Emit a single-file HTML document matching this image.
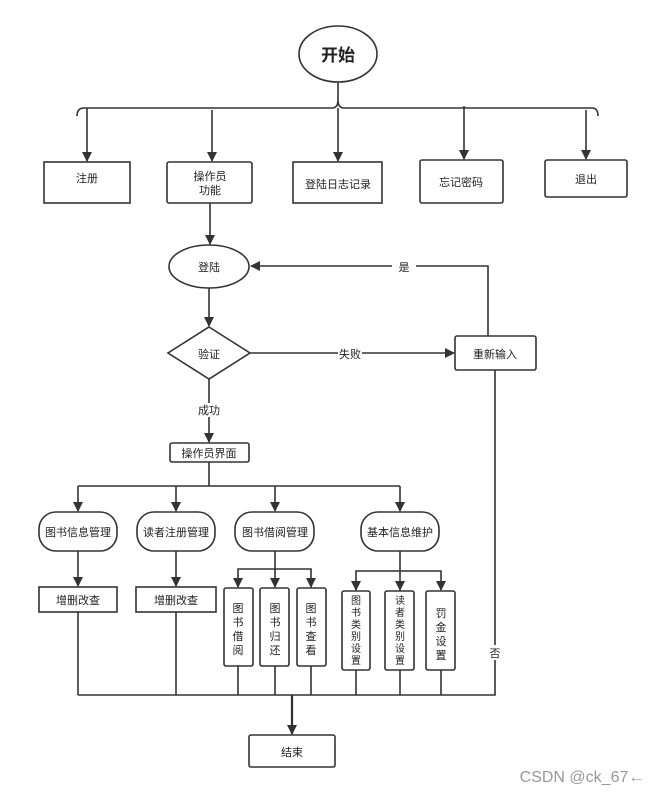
<!DOCTYPE html>
<html><head><meta charset="utf-8"><style>
html,body{margin:0;padding:0;background:#fff;}
svg{display:block;}
text{font-family:"Liberation Sans","Noto Sans CJK SC",sans-serif;fill:#222;font-size:11px;}
.s{font-size:10px;}
</style></head><body>
<svg width="658" height="795" viewBox="0 0 658 795" xmlns="http://www.w3.org/2000/svg">
<defs><marker id="a" markerWidth="10" markerHeight="10" refX="9" refY="5" orient="auto" markerUnits="userSpaceOnUse"><path d="M0,0 L10,5 L0,10 z" fill="#333"/></marker></defs>
<g stroke="#333" stroke-width="1.6" fill="none">
<ellipse cx="338" cy="54" rx="39" ry="28"/>
<line x1="338" y1="82" x2="338" y2="100"/>
<path d="M77,116 Q77,108 84,108 L332,108 Q338,108 338,100 Q338,108 344,108 L592,108 Q598,108 598,116"/>
<line x1="87" y1="108" x2="87" y2="161" marker-end="url(#a)"/>
<line x1="212" y1="110" x2="212" y2="161" marker-end="url(#a)"/>
<line x1="338" y1="108" x2="338" y2="161" marker-end="url(#a)"/>
<line x1="464" y1="106" x2="464" y2="159" marker-end="url(#a)"/>
<line x1="586" y1="110" x2="586" y2="159" marker-end="url(#a)"/>
<rect x="44" y="162" width="86" height="41"/>
<rect x="167" y="162" width="85" height="41" rx="2"/>
<rect x="293" y="162" width="89" height="41"/>
<rect x="420" y="160" width="83" height="43" rx="2"/>
<rect x="545" y="160" width="82" height="37" rx="2"/>
<line x1="210" y1="203" x2="210" y2="244" marker-end="url(#a)"/>
<ellipse cx="209" cy="266.5" rx="40" ry="21.5"/>
<line x1="209" y1="288" x2="209" y2="326" marker-end="url(#a)"/>
<path d="M209,327 L250,353 L209,379 L168,353 z"/>
<line x1="250" y1="353" x2="454" y2="353" marker-end="url(#a)"/>
<rect x="455" y="336" width="81" height="34" rx="2"/>
<path d="M488,336 L488,266 L251,266" marker-end="url(#a)"/>
<line x1="209" y1="379" x2="209" y2="442" marker-end="url(#a)"/>
<rect x="170" y="443" width="79" height="19" rx="2"/>
<line x1="209" y1="462" x2="209" y2="486"/>
<line x1="78" y1="486" x2="400" y2="486"/>
<line x1="78" y1="486" x2="78" y2="511" marker-end="url(#a)"/>
<line x1="176" y1="486" x2="176" y2="511" marker-end="url(#a)"/>
<line x1="275" y1="486" x2="275" y2="511" marker-end="url(#a)"/>
<line x1="400" y1="486" x2="400" y2="511" marker-end="url(#a)"/>
<rect x="39" y="512" width="78" height="39" rx="17"/>
<rect x="137" y="512" width="78" height="39" rx="17"/>
<rect x="235" y="512" width="79" height="39" rx="17"/>
<rect x="361" y="512" width="78" height="39" rx="17"/>
<line x1="78" y1="551" x2="78" y2="586" marker-end="url(#a)"/>
<line x1="176" y1="551" x2="176" y2="586" marker-end="url(#a)"/>
<rect x="39" y="587" width="78" height="25"/>
<rect x="136" y="587" width="80" height="25"/>
<line x1="275" y1="551" x2="275" y2="587" marker-end="url(#a)"/>
<path d="M238,587 L238,569 L311,569 L311,587" marker-end="url(#a)"/>
<line x1="238" y1="580" x2="238" y2="587" marker-end="url(#a)"/>
<rect x="224" y="588" width="29" height="78" rx="2"/>
<rect x="260" y="588" width="29" height="78" rx="2"/>
<rect x="297" y="588" width="29" height="78" rx="2"/>
<line x1="400" y1="551" x2="400" y2="590" marker-end="url(#a)"/>
<path d="M356,590 L356,571 L441,571 L441,590" marker-end="url(#a)"/>
<line x1="356" y1="582" x2="356" y2="590" marker-end="url(#a)"/>
<rect x="342" y="591" width="28" height="79" rx="2"/>
<rect x="385" y="591" width="29" height="79" rx="2"/>
<rect x="426" y="591" width="29" height="79" rx="2"/>
<line x1="78" y1="612" x2="78" y2="695"/>
<line x1="176" y1="612" x2="176" y2="695"/>
<line x1="238" y1="666" x2="238" y2="695"/>
<line x1="275" y1="666" x2="275" y2="695"/>
<line x1="311" y1="666" x2="311" y2="695"/>
<line x1="356" y1="670" x2="356" y2="695"/>
<line x1="400" y1="670" x2="400" y2="695"/>
<line x1="441" y1="670" x2="441" y2="695"/>
<path d="M495,370 L495,695 L78,695"/>
<line x1="292" y1="695" x2="292" y2="734" stroke-width="2.2" marker-end="url(#a)"/>
<rect x="249" y="735" width="86" height="32" rx="2"/>
</g>
<g text-anchor="middle">
<text x="338" y="61" style="font-size:17px;font-weight:bold">开始</text>
<text x="87" y="182">注册</text>
<text x="210" y="180">操作员</text>
<text x="210" y="194">功能</text>
<text x="338" y="188">登陆日志记录</text>
<text x="461" y="186">忘记密码</text>
<text x="586" y="183">退出</text>
<text x="209" y="271">登陆</text>
<text x="209" y="358">验证</text>
<rect x="392" y="259" width="24" height="14" fill="#fff"/>
<text x="404" y="271">是</text>
<rect x="338" y="346" width="24" height="14" fill="#fff"/>
<text x="350" y="358">失败</text>
<text x="495" y="358">重新输入</text>
<rect x="195" y="403" width="28" height="14" fill="#fff"/>
<text x="209" y="414">成功</text>
<text x="209" y="457">操作员界面</text>
<text x="78" y="536">图书信息管理</text>
<text x="176" y="536">读者注册管理</text>
<text x="275" y="536">图书借阅管理</text>
<text x="400" y="536">基本信息维护</text>
<text x="78" y="604">增删改查</text>
<text x="176" y="604">增删改查</text>
<text x="238" y="612">图</text><text x="238" y="626">书</text><text x="238" y="640">借</text><text x="238" y="654">阅</text>
<text x="275" y="612">图</text><text x="275" y="626">书</text><text x="275" y="640">归</text><text x="275" y="654">还</text>
<text x="311" y="612">图</text><text x="311" y="626">书</text><text x="311" y="640">查</text><text x="311" y="654">看</text>
<g class="s">
<text class="s" x="356" y="604">图</text><text class="s" x="356" y="616">书</text><text class="s" x="356" y="628">类</text><text class="s" x="356" y="640">别</text><text class="s" x="356" y="652">设</text><text class="s" x="356" y="664">置</text>
<text class="s" x="400" y="604">读</text><text class="s" x="400" y="616">者</text><text class="s" x="400" y="628">类</text><text class="s" x="400" y="640">别</text><text class="s" x="400" y="652">设</text><text class="s" x="400" y="664">置</text>
</g>
<text x="441" y="617">罚</text><text x="441" y="631">金</text><text x="441" y="645">设</text><text x="441" y="659">置</text>
<rect x="488" y="645" width="14" height="15" fill="#fff"/>
<text x="495" y="657">否</text>
<text x="292" y="756">结束</text>
<text x="582" y="782" style="font-size:16px;fill:#999">CSDN @ck_67←</text>
</g>
</svg>
</body></html>
